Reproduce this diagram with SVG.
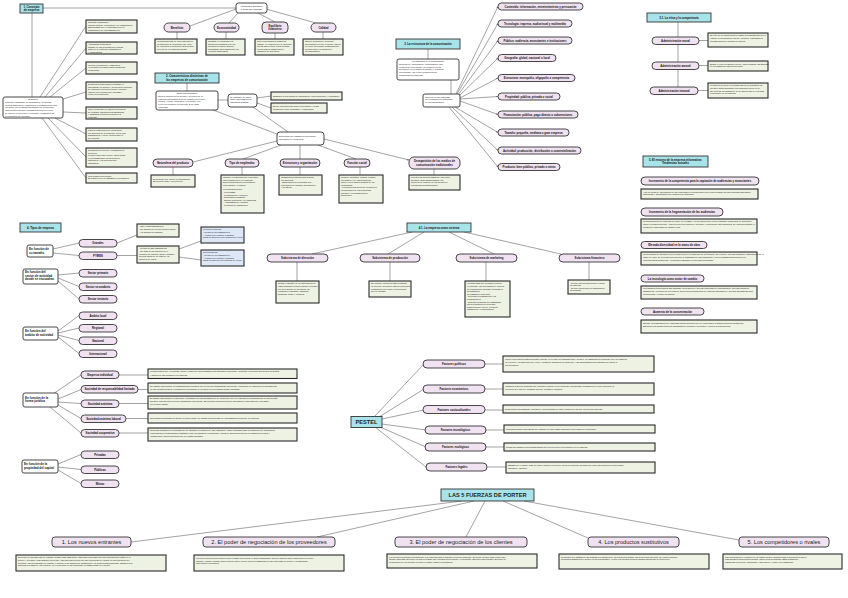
<svg xmlns="http://www.w3.org/2000/svg" width="848" height="598" viewBox="0 0 848 598">
<defs>
<style>
.bg{fill:#fff}
.t{fill:#a8e3ea;stroke:#333;stroke-width:0.9}
.p{fill:#f1e2f2;stroke:#333;stroke-width:0.9}
.g{fill:#eef2e3;stroke:#2a2a2a;stroke-width:1.1}
.w{fill:#fff;stroke:#333;stroke-width:0.9}
.b{fill:#dde8f7;stroke:#2a2a2a;stroke-width:1.1}
.c{fill:none;stroke:#666;stroke-width:0.6}
text{font-family:"Liberation Sans",Arial,sans-serif;fill:#111}
.h{font-size:2.8px;font-weight:bold;text-anchor:middle}
.pl{font-size:2.8px;font-weight:bold;text-anchor:middle}
.s{font-size:2.2px}
.sc{font-size:2.2px;text-anchor:middle}
.sb{font-size:3px;font-weight:bold}
.big{font-size:5.6px;text-anchor:middle;fill:#222}
.bh{font-size:5.6px;font-weight:bold;text-anchor:middle;fill:#222}
</style>
<marker id="a" viewBox="0 0 6 6" refX="6" refY="3" markerWidth="3" markerHeight="3" orient="auto"><path d="M0,0 L6,3 L0,6 z" fill="#666"/></marker>
</defs>
<rect class="bg" x="0" y="0" width="848" height="598"/>

<g id="connectors">
<path class="c" d="M43,8 H236 M32,13 V97"/>
<path class="c" d="M40,97 L86,26 M45,97 L86,48 M50,97 L86,68 M63,99 L86,92 M63,112 L86,113 M55,118 L86,134 M48,118 L86,157 M42,118 L86,178"/>
<path class="c" d="M236,9 L190,26 M238,13 L229,23 M258,13 L275,22 M266,9 L316,23 M177,32 V39 M226,32 V39 M275,33 V39 M323,32 V39"/>
<path class="c" d="M187,83 V91 M218,100 H228 M257,98 L271,96 M257,103 L271,108 M253,107 L288,132 M213,110 L277,134"/>
<path class="c" d="M277,141 L193,162 M281,145 L243,159 M300,145 V159 M318,145 L356,159 M173,167 V175 M242,167 V175 M300,167 V175 M360,167 V175 M434,169 V175"/>
<path class="c" marker-end="url(#a)" d="M324,139 L409,160"/>
<path class="c" d="M428,49 V59 M451,80 V94"/>
<g marker-end="url(#a)">
<path class="c" d="M456,94 L498,6.5"/>
<path class="c" d="M457,94 L498,23.5"/>
<path class="c" d="M458,95 L498,40.5"/>
<path class="c" d="M459,96 L498,58"/>
<path class="c" d="M460,98 L498,78"/>
<path class="c" d="M460,99 L498,96.5"/>
<path class="c" d="M460,101 L498,114.5"/>
<path class="c" d="M455,107 L498,132.5"/>
<path class="c" d="M452,107 L498,150.5"/>
<path class="c" d="M449,107 L498,167"/>
</g>
<path class="c" d="M678,22 V37 M678,44 V62 M678,69 V87 M699,40.5 H708 M699,65.5 H708 M698,90.5 H708"/>
<path class="c" d="M53,249 L79,243 M53,253 L79,255.5 M117,243 L137,235 M117,255.5 H137 M179,249 L201,241 M179,257 L201,260"/>
<path class="c" d="M58,275 L79,273 M58,278 L79,286.5 M58,281 L79,299"/>
<path class="c" d="M58,331 L79,315.5 M58,333 L79,328 M58,335 L79,340.5 M58,337 L79,353.5"/>
<path class="c" d="M50,396 L81,375 M58,399 L81,389.5 M58,402 L81,403.5 M58,405 L81,418.5 M50,407 L81,433"/>
<path class="c" d="M119,375 H148 M138,389.5 H148 M119,403.5 H148 M126,418.5 H148 M119,433 H148"/>
<path class="c" d="M58,464 L81,454.5 M58,467 L81,469.5 M58,470 L81,483.5"/>
<path class="c" d="M412,232 L312,254 M424,232 L388,254 M449,232 L494,254 M464,232 L561,254 M297,262 V281 M390,262 V281 M486,262 V281 M589,262 V280"/>
<path class="c" d="M374,417 L424,364 M379,417 L424,389 M382,419 L424,410 M382,424 L426,430 M380,427 L426,447 M375,427 L426,467"/>
<path class="c" d="M485,364 H503 M485,389 H503 M485,410 H503 M485,430 H504 M485,447 H504 M486,467 H506"/>
<path class="c" d="M462,501 L131,542 M474,501 L317,537 M485,501 L466,537 M503,501 L588,538 M524,501 L739,540"/>
</g>

<g id="concepto"><rect class="t" x="20" y="4" width="23" height="9"/><text class="h"><tspan x="31.5" y="7.9">1. Concepto</tspan><tspan x="31.5" y="11.4">de empresa</tspan></text></g>
<g id="definicion"><rect class="w" x="3" y="97" width="60" height="21" rx="2"/><text class="s"><tspan x="33" y="100.3" text-anchor="middle">Definición</tspan><tspan x="5" y="103">Conjunto organizado de actividades y personas,</tspan><tspan x="5" y="105.7">medios materiales y financieros, coordinados por una</tspan><tspan x="5" y="108.4">dirección, que combina los factores de producción</tspan><tspan x="5" y="111.1">para producir bienes o prestar servicios con el fin</tspan><tspan x="5" y="113.8">de obtener un beneficio económico y satisfacer las</tspan><tspan x="5" y="116.5">necesidades del mercado.</tspan></text></g>
<g id="c1"><rect class="g" x="86" y="20" width="51" height="13"/><text class="s"><tspan x="88" y="23">Conjunto organizado:</tspan><tspan x="88" y="25.6">Unidad jurídica, económica y de organización.</tspan><tspan x="88" y="28.2">Está dirigida por el empresario con la</tspan><tspan x="88" y="30.8">participación de los trabajadores.</tspan></text></g>
<g id="c2"><rect class="g" x="86" y="42" width="51" height="12"/><text class="s"><tspan x="88" y="45">Actividades personales:</tspan><tspan x="88" y="47.6">Trabajo de las personas que forman</tspan><tspan x="88" y="50.2">parte de la empresa: trabajadores</tspan><tspan x="88" y="52.8">y empresarios.</tspan></text></g>
<g id="c3"><rect class="g" x="86" y="62" width="51" height="12"/><text class="s"><tspan x="88" y="65.5">Medios económicos y materiales:</tspan><tspan x="88" y="68.1">elementos necesarios para desarrollar</tspan><tspan x="88" y="70.7">la actividad.</tspan></text></g>
<g id="c4"><rect class="g" x="86" y="82" width="51" height="17"/><text class="s"><tspan x="88" y="85">Relaciones comerciales: mediante el</tspan><tspan x="88" y="87.6">intercambio de bienes y servicios la empresa</tspan><tspan x="88" y="90.2">se relaciona con proveedores y clientes,</tspan><tspan x="88" y="92.8">obtiene los recursos que necesita y</tspan><tspan x="88" y="95.4">vende su producción.</tspan></text></g>
<g id="c5"><rect class="g" x="86" y="107" width="51" height="12"/><text class="s"><tspan x="88" y="110">Con el propósito de obtener beneficios:</tspan><tspan x="88" y="112.6">se persigue maximizar las ganancias</tspan><tspan x="88" y="115.2">y garantizar la supervivencia de la</tspan><tspan x="88" y="117.8">empresa.</tspan></text></g>
<g id="c6"><rect class="g" x="86" y="128" width="51" height="13"/><text class="s"><tspan x="88" y="131">Para la consecución de unos fines:</tspan><tspan x="88" y="133.6">los objetivos de la empresa, los de sus</tspan><tspan x="88" y="136.2">trabajadores y los de la sociedad en</tspan><tspan x="88" y="138.8">su conjunto.</tspan></text></g>
<g id="c7"><rect class="g" x="86" y="148" width="51" height="19"/><text class="s"><tspan x="88" y="151">Producción de bienes y prestación de</tspan><tspan x="88" y="153.6">servicios.</tspan><tspan x="88" y="156.2">La diferencia entre unos y otros radica</tspan><tspan x="88" y="158.8">en la tangibilidad: los bienes son</tspan><tspan x="88" y="161.4">materiales y los servicios son</tspan><tspan x="88" y="164">intangibles.</tspan></text></g>
<g id="c8"><rect class="g" x="86" y="173" width="51" height="10"/><text class="s"><tspan x="88" y="176.5">Con destino al mercado:</tspan><tspan x="88" y="179.3">El destino es el de satisfacer necesidades.</tspan></text></g>

<g id="finalidades"><rect class="w" x="236" y="3" width="31" height="10" rx="2.5"/><text class="sc"><tspan x="251.5" y="7.3">Finalidades aplicables</tspan><tspan x="251.5" y="10">a todas las empresas</tspan></text></g>
<g id="beneficio"><rect class="p" x="164" y="23" width="26" height="9" rx="4.5"/><text class="pl" x="177" y="28.5">Beneficio</text></g>
<g id="economicidad"><rect class="p" x="214" y="23" width="25" height="9" rx="4.5"/><text class="pl" x="226.5" y="28.5">Economicidad</text></g>
<g id="equilibrio"><rect class="p" x="262" y="22" width="26" height="11" rx="4"/><text class="pl"><tspan x="275" y="26.7">Equilibrio</tspan><tspan x="275" y="30">financiero</tspan></text></g>
<g id="calidad"><rect class="p" x="311" y="23" width="25" height="9" rx="4.5"/><text class="pl" x="323.5" y="28.5">Calidad</text></g>
<g id="d-beneficio"><rect class="g" x="155" y="39" width="42" height="14"/><text class="s"><tspan x="157" y="42">La actividad final de una empresa es</tspan><tspan x="157" y="44.6">la obtención de beneficios. De ellos</tspan><tspan x="157" y="47.2">se remunera a los socios. El beneficio</tspan><tspan x="157" y="49.8">es el fin de la empresa privada.</tspan></text></g>
<g id="d-economicidad"><rect class="g" x="206" y="39" width="39" height="16"/><text class="s"><tspan x="208" y="42">Consiste en conseguir los</tspan><tspan x="208" y="44.6">máximos resultados con los</tspan><tspan x="208" y="47.2">mínimos recursos. Supone</tspan><tspan x="208" y="49.8">administrar adecuadamente los</tspan><tspan x="208" y="52.4">recursos disponibles.</tspan></text></g>
<g id="d-equilibrio"><rect class="g" x="255" y="39" width="39" height="16"/><text class="s"><tspan x="257" y="42">Tener una situación financiera</tspan><tspan x="257" y="44.6">estable, de manera que la empresa</tspan><tspan x="257" y="47.2">pueda hacer frente a sus deudas</tspan><tspan x="257" y="49.8">en los plazos establecidos y</tspan><tspan x="257" y="52.4">mantener su solvencia.</tspan></text></g>
<g id="d-calidad"><rect class="g" x="303" y="39" width="40" height="16"/><text class="s"><tspan x="305" y="42">Ofrecer productos y servicios</tspan><tspan x="305" y="44.6">adecuados a lo que el cliente espera</tspan><tspan x="305" y="47.2">de ellos, mejorando continuamente</tspan><tspan x="305" y="49.8">los procesos y la gestión de</tspan><tspan x="305" y="52.4">la organización.</tspan></text></g>

<g id="s2"><rect class="t" x="155" y="73" width="64" height="10"/><text class="h"><tspan x="187" y="77.2">2. Características distintivas de</tspan><tspan x="187" y="80.7">las empresas de comunicación</tspan></text></g>
<g id="empresa-inf"><rect class="w" x="156" y="91" width="62" height="19" rx="2"/><text class="s"><tspan x="187" y="94.2" text-anchor="middle">Empresa informativa</tspan><tspan x="158" y="97.2">Toda la producción de bienes y servicios de la</tspan><tspan x="158" y="99.8">empresa informativa tiene un carácter ideológico,</tspan><tspan x="158" y="102.4">cultural y social, además de económico, por</tspan><tspan x="158" y="105">lo que su producto es diferente al de otras</tspan><tspan x="158" y="107.6">empresas.</tspan></text></g>
<g id="distingue"><rect class="w" x="228" y="94" width="29" height="13" rx="3"/><text class="s"><tspan x="230" y="97.6">Se distingue de las de</tspan><tspan x="230" y="100.3">otras empresas por su</tspan><tspan x="230" y="103">naturaleza singular</tspan></text></g>
<g id="satisface"><rect class="g" x="271" y="92" width="71" height="8"/><text class="s" x="273" y="96.7">Satisface la necesidad de información, entretenimiento y persuasión</text></g>
<g id="ejerce"><rect class="g" x="271" y="103" width="56" height="10"/><text class="s"><tspan x="273" y="106.7">Ejerce una influencia sobre la persona y en sus</tspan><tspan x="273" y="109.5">decisiones como ciudadano y consumidor</tspan></text></g>
<g id="elementos"><rect class="w" x="277" y="132" width="47" height="13" rx="3"/><text class="s"><tspan x="279" y="137">Elementos que distinguen al producto</tspan><tspan x="279" y="139.8">informativo de otros tipos</tspan></text></g>
<g id="naturaleza"><rect class="p" x="153" y="159" width="40" height="8" rx="4"/><text class="pl" x="173" y="164">Naturaleza del producto</text></g>
<g id="tipo"><rect class="p" x="225" y="159" width="34" height="8" rx="4"/><text class="pl" x="242" y="164">Tipo de empleados</text></g>
<g id="estructura"><rect class="p" x="280" y="159" width="40" height="8" rx="4"/><text class="pl" x="300" y="164">Estructura y organización</text></g>
<g id="funcion"><rect class="p" x="344" y="159" width="26" height="8" rx="4"/><text class="pl" x="357" y="164">Función social</text></g>
<g id="desaparicion"><rect class="p" x="409" y="157" width="51" height="12" rx="5"/><text class="pl"><tspan x="434.5" y="162">Desaparición de los medios de</tspan><tspan x="434.5" y="165.5">comunicación tradicionales</tspan></text></g>
<g id="d-naturaleza"><rect class="g" x="151" y="175" width="44" height="12"/><text class="s"><tspan x="153" y="179.5">El producto que ofrece es información.</tspan><tspan x="153" y="182.3">Es un bien doble y perecedero.</tspan></text></g>
<g id="d-tipo"><rect class="g" x="221" y="175" width="43" height="38"/><text class="s"><tspan x="223" y="178">Cultura y creatividad son elementos</tspan><tspan x="223" y="180.6">diferenciadores de la empresa.</tspan><tspan x="223" y="183.2">Son profesionales con formación</tspan><tspan x="223" y="185.8">universitaria y vocación.</tspan><tspan x="223" y="190.4">Los principales son:</tspan><tspan x="223" y="193">- Periodistas</tspan><tspan x="223" y="195.6">- Realizadores y técnicos</tspan><tspan x="223" y="198.2">- Diseñadores gráficos</tspan><tspan x="223" y="200.8">- Equipo comercial y de marketing</tspan><tspan x="223" y="203.4">- Administración y gestión</tspan><tspan x="223" y="206">- Personal de distribución</tspan></text></g>
<g id="d-estructura"><rect class="g" x="279" y="175" width="43" height="20"/><text class="s"><tspan x="281" y="178">Organización interna para cumplir</tspan><tspan x="281" y="180.6">los objetivos.</tspan><tspan x="281" y="183.2">- Elaboración de productos con</tspan><tspan x="281" y="185.8">contenidos de calidad, innovadores</tspan><tspan x="281" y="188.4">y creativos.</tspan></text></g>
<g id="d-funcion"><rect class="g" x="339" y="175" width="44" height="28"/><text class="s"><tspan x="341" y="178">Función educativa, cultural, política,</tspan><tspan x="341" y="180.6">ideológica y de entretenimiento.</tspan><tspan x="341" y="183.2">Influye en la opinión pública de los</tspan><tspan x="341" y="185.8">ciudadanos.</tspan><tspan x="341" y="188.4">- La función social puede ayudar a la</tspan><tspan x="341" y="191">comprensión de los problemas</tspan><tspan x="341" y="193.6">sociales y a la búsqueda de</tspan><tspan x="341" y="196.2">soluciones.</tspan></text></g>
<g id="d-desaparicion"><rect class="g" x="409" y="175" width="51" height="15"/><text class="s"><tspan x="411" y="178">Los nuevos medios digitales y las redes</tspan><tspan x="411" y="180.6">sociales están transformando los</tspan><tspan x="411" y="183.2">modelos de negocio de los medios de</tspan><tspan x="411" y="185.8">comunicación tradicionales.</tspan></text></g>

<g id="s3"><rect class="t" x="396" y="39" width="64" height="10"/><text class="h" x="428" y="45">3. La estructura de la comunicación</text></g>
<g id="estructura-com"><rect class="w" x="397" y="59" width="62" height="21" rx="2"/><text class="s"><tspan x="428" y="62.3" text-anchor="middle">La estructura de la comunicación</tspan><tspan x="399" y="65.2">Conjunto de empresas de comunicación, sus</tspan><tspan x="399" y="67.8">relaciones económicas y su posición en los</tspan><tspan x="399" y="70.4">mercados en un ámbito geográfico y temporal</tspan><tspan x="399" y="73">determinado, así como los factores que</tspan><tspan x="399" y="75.6">condicionan su actividad.</tspan></text></g>
<g id="criterios"><rect class="w" x="423" y="94" width="37" height="13" rx="2"/><text class="s"><tspan x="425" y="97.7">Criterios en las empresas</tspan><tspan x="425" y="100.4">que componen la estructura</tspan><tspan x="425" y="103.1">de la comunicación</tspan></text></g>
<g id="k1"><rect class="p" x="498" y="3" width="85" height="7" rx="3.5"/><text class="pl" x="540.5" y="7.5">Contenido: información, entretenimiento y persuasión</text></g>
<g id="k2"><rect class="p" x="498" y="20" width="74" height="7" rx="3.5"/><text class="pl" x="535" y="24.5">Tecnología: impresa, audiovisual y multimedia</text></g>
<g id="k3"><rect class="p" x="498" y="37" width="74" height="7" rx="3.5"/><text class="pl" x="535" y="41.5">Público: audiencia, anunciantes e instituciones</text></g>
<g id="k4"><rect class="p" x="498" y="54.5" width="58" height="7" rx="3.5"/><text class="pl" x="527" y="59">Geografía: global, nacional o local</text></g>
<g id="k5"><rect class="p" x="498" y="74.5" width="77" height="7" rx="3.5"/><text class="pl" x="536.5" y="79">Estructura: monopolio, oligopolio o competencia</text></g>
<g id="k6"><rect class="p" x="498" y="93" width="62" height="7" rx="3.5"/><text class="pl" x="529" y="97.5">Propiedad: pública, privada o social</text></g>
<g id="k7"><rect class="p" x="498" y="111" width="80" height="7" rx="3.5"/><text class="pl" x="538" y="115.5">Financiación: pública, pago directo o subvenciones</text></g>
<g id="k8"><rect class="p" x="498" y="129" width="71" height="7" rx="3.5"/><text class="pl" x="533.5" y="133.5">Tamaño: pequeña, mediana o gran empresa</text></g>
<g id="k9"><rect class="p" x="498" y="147" width="83" height="7" rx="3.5"/><text class="pl" x="539.5" y="151.5">Actividad: producción, distribución o comercialización</text></g>
<g id="k10"><rect class="p" x="498" y="163.5" width="62" height="7" rx="3.5"/><text class="pl" x="529" y="168">Producto: bien público, privado o mixto</text></g>

<g id="s51"><rect class="t" x="647" y="13" width="64" height="9"/><text class="h" x="679" y="18.5">5.1. La ética y la competencia</text></g>
<g id="moral"><rect class="p" x="652" y="37" width="47" height="7.5" rx="3.7"/><text class="pl" x="675.5" y="41.7">Administración moral</text></g>
<g id="amoral"><rect class="p" x="652" y="62" width="47" height="7.5" rx="3.7"/><text class="pl" x="675.5" y="66.7">Administración amoral</text></g>
<g id="inmoral"><rect class="p" x="650" y="87" width="48" height="7.5" rx="3.7"/><text class="pl" x="674" y="91.7">Administración inmoral</text></g>
<g id="d-moral"><rect class="g" x="708" y="33" width="60" height="14"/><text class="s"><tspan x="710" y="36.3">El éxito de la empresa ha de pasar necesariamente por el</tspan><tspan x="710" y="38.9">respeto a los principios éticos y morales, respetando a</tspan><tspan x="710" y="41.5">los stakeholders o grupos de interés.</tspan></text></g>
<g id="d-amoral"><rect class="g" x="708" y="61" width="60" height="10"/><text class="s"><tspan x="710" y="64.6">Busca el éxito a cualquier precio, aprovechando las lagunas</tspan><tspan x="710" y="67.2">de la legislación para su beneficio.</tspan></text></g>
<g id="d-inmoral"><rect class="g" x="708" y="83" width="60" height="15"/><text class="s"><tspan x="710" y="86.3">La ética no se tiene en consideración en la gestión. El</tspan><tspan x="710" y="88.9">directivo actúa ignorando los principios éticos, pero</tspan><tspan x="710" y="91.5">sin vulnerar la legislación: no se aprovecha de ella para</tspan><tspan x="710" y="94.1">el beneficio de la empresa.</tspan></text></g>

<g id="s5"><rect class="t" x="643" y="156" width="65" height="11"/><text class="h"><tspan x="675.5" y="160.7">5. El entorno de la empresa informativa:</tspan><tspan x="675.5" y="164.2">Tendencias actuales</tspan></text></g>
<g id="e1"><rect class="p" x="641" y="177" width="118" height="8" rx="4"/><text class="pl" x="700" y="182">Incremento de la competencia para la captación de audiencias y anunciantes</text></g>
<g id="de1"><rect class="g" x="641" y="189" width="117" height="10"/><text class="s"><tspan x="643" y="192.6">Ante la oferta de información de las empresas de comunicación que deben buscar nuevas fórmulas para atraer</tspan><tspan x="643" y="195.2">audiencias y anunciantes que financien su actividad.</tspan></text></g>
<g id="e2"><rect class="p" x="641" y="208" width="82" height="8" rx="4"/><text class="pl" x="682" y="213">Incremento de la fragmentación de las audiencias</text></g>
<g id="de2"><rect class="g" x="641" y="219" width="116" height="14"/><text class="s"><tspan x="643" y="222.3">La multiplicación de cadenas de radio, de revistas y de televisión tiene como resultado segmentos de audiencia</tspan><tspan x="643" y="224.9">cada vez más pequeños. Aparecen nuevos nichos de mercado y contenidos especializados. Se está fomentando el</tspan><tspan x="643" y="227.5">desarrollo empresarial de ámbito local.</tspan></text></g>
<g id="e3"><rect class="p" x="641" y="241.5" width="66" height="7" rx="3.5"/><text class="pl" x="674" y="246">Elevada diversidad en la mano de obra</text></g>
<g id="de3"><rect class="g" x="641" y="252" width="116" height="13"/><text class="s"><tspan x="643" y="255.3">La diversidad de talentos es un recurso nuevo en cada uno de producción. Se requiere nuevas formas de organización de la</tspan><tspan x="643" y="257.9">mano de obra. Se necesita la presencia de trabajadores especializados y los periodistas tradicionales con</tspan><tspan x="643" y="260.5">conocimientos multimedia, y personal cualificado en nuevas tecnologías.</tspan></text></g>
<g id="e4"><rect class="p" x="641" y="275" width="63" height="7" rx="3.5"/><text class="pl" x="672.5" y="279.5">La tecnología como motor de cambio</text></g>
<g id="de4"><rect class="g" x="641" y="286" width="116" height="13"/><text class="s"><tspan x="643" y="289.3">Los cambios tecnológicos han facilitado la creación de nuevas empresas de comunicación, nuevas formas de</tspan><tspan x="643" y="291.9">distribución y producción del negocio. Nuevos procedimientos de elaborar información y nuevas alternativas para</tspan><tspan x="643" y="294.5">promocionar y vender productos.</tspan></text></g>
<g id="e5"><rect class="p" x="641" y="308" width="63" height="7" rx="3.5"/><text class="pl" x="672.5" y="312.5">Aumento de la concentración</text></g>
<g id="de5"><rect class="g" x="641" y="320" width="116" height="13"/><text class="s"><tspan x="643" y="324">Supone la desaparición de empresas independientes que se concentran en grandes grupos multimedia.</tspan><tspan x="643" y="326.6">Estos nuevos grupos tienen la capacidad de dominar el mercado y reducir la competencia.</tspan></text></g>

<g id="s4"><rect class="t" x="20" y="223" width="41" height="9"/><text class="h" x="40.5" y="228.6">4. Tipos de empresa</text></g>
<g id="tamano"><rect class="w" x="27" y="245" width="26" height="12" rx="2"/><text class="sb"><tspan x="29" y="249.8">En función de</tspan><tspan x="29" y="253.6">su tamaño</tspan></text></g>
<g id="grandes"><rect class="p" x="79" y="239.5" width="38" height="7.5" rx="3.7"/><text class="pl" x="98" y="244.2">Grandes</text></g>
<g id="pymes"><rect class="p" x="79" y="252" width="38" height="7.5" rx="3.7"/><text class="pl" x="98" y="256.7">PYMES</text></g>
<g id="d-grandes"><rect class="g" x="137" y="224" width="42" height="13"/><text class="s"><tspan x="139" y="227.3">- 250 o más trabajadores</tspan><tspan x="139" y="229.9">- 50 millones de euros volumen anual</tspan><tspan x="139" y="232.5">- 43 millones de balance</tspan></text></g>
<g id="d-pymes"><rect class="g" x="137" y="246" width="42" height="17"/><text class="s"><tspan x="139" y="249.3">- Menos de 250 trabajadores</tspan><tspan x="139" y="251.9">- No más de 50 millones en el</tspan><tspan x="139" y="254.5">volumen de negocio anual o balance</tspan><tspan x="139" y="257.1">general anual de no más de 43</tspan><tspan x="139" y="259.7">millones de euros</tspan></text></g>
<g id="pequena"><rect class="b" x="201" y="227" width="43" height="16"/><text class="s"><tspan x="203" y="230.3">Pequeña empresa:</tspan><tspan x="203" y="232.9">- Menos de 50 trabajadores</tspan><tspan x="203" y="235.5">- Volumen de negocio o balance</tspan><tspan x="203" y="238.1">anual no superior a 10 millones de euros</tspan></text></g>
<g id="micro"><rect class="b" x="201" y="250" width="43" height="16"/><text class="s"><tspan x="203" y="253.3">Microempresa:</tspan><tspan x="203" y="255.9">- Menos de 10 trabajadores</tspan><tspan x="203" y="258.5">- Volumen de negocio o balance</tspan><tspan x="203" y="261.1">anual no superior a 2 millones de euros</tspan></text></g>
<g id="sector"><rect class="w" x="23" y="269" width="35" height="15" rx="2"/><text class="sb"><tspan x="25" y="273.2">En función del</tspan><tspan x="25" y="276.6">sector de actividad</tspan><tspan x="25" y="280">donde se encuadran</tspan></text></g>
<g id="primario"><rect class="p" x="79" y="269.5" width="38" height="7.5" rx="3.7"/><text class="pl" x="98" y="274.2">Sector primario</text></g>
<g id="secundario"><rect class="p" x="79" y="283" width="38" height="7.5" rx="3.7"/><text class="pl" x="98" y="287.7">Sector secundario</text></g>
<g id="terciario"><rect class="p" x="79" y="295.5" width="38" height="7.5" rx="3.7"/><text class="pl" x="98" y="300.2">Sector terciario</text></g>
<g id="ambito"><rect class="w" x="23" y="327" width="35" height="13" rx="2"/><text class="sb"><tspan x="25" y="331.8">En función del</tspan><tspan x="25" y="335.6">ámbito de actividad</tspan></text></g>
<g id="local"><rect class="p" x="79" y="312" width="38" height="7.5" rx="3.7"/><text class="pl" x="98" y="316.7">Ámbito local</text></g>
<g id="regional"><rect class="p" x="79" y="324.5" width="38" height="7.5" rx="3.7"/><text class="pl" x="98" y="329.2">Regional</text></g>
<g id="nacional"><rect class="p" x="79" y="337" width="38" height="7.5" rx="3.7"/><text class="pl" x="98" y="341.7">Nacional</text></g>
<g id="internacional"><rect class="p" x="79" y="350" width="38" height="7.5" rx="3.7"/><text class="pl" x="98" y="354.7">Internacional</text></g>
<g id="forma"><rect class="w" x="23" y="393" width="35" height="14" rx="2"/><text class="sb"><tspan x="25" y="398.5">En función de la</tspan><tspan x="25" y="402.3">forma jurídica</tspan></text></g>
<g id="individual"><rect class="p" x="81" y="371" width="38" height="7.5" rx="3.7"/><text class="pl" x="100" y="375.7">Empresa individual</text></g>
<g id="srl"><rect class="p" x="81" y="385.5" width="57" height="7.5" rx="3.7"/><text class="pl" x="109.5" y="390.2">Sociedad de responsabilidad limitada</text></g>
<g id="sa"><rect class="p" x="81" y="400" width="38" height="7.5" rx="3.7"/><text class="pl" x="100" y="404.7">Sociedad anónima</text></g>
<g id="sal"><rect class="p" x="81" y="415" width="45" height="7.5" rx="3.7"/><text class="pl" x="103.5" y="419.7">Sociedad anónima laboral</text></g>
<g id="coop"><rect class="p" x="81" y="429.5" width="38" height="7.5" rx="3.7"/><text class="pl" x="100" y="434.2">Sociedad cooperativa</text></g>
<g id="d-individual"><rect class="g" x="148" y="369" width="149" height="9.5"/><text class="s"><tspan x="150" y="372.4">Persona física que, en nombre propio, realiza de forma habitual una actividad económica y responde con todos sus bienes presentes</tspan><tspan x="150" y="375.6">y futuros de las deudas de la empresa.</tspan></text></g>
<g id="d-srl"><rect class="g" x="148" y="383" width="149" height="10"/><text class="s"><tspan x="150" y="386.5">Su capital está dividido en participaciones sociales que no pueden transmitirse libremente; los socios no responden personalmente</tspan><tspan x="150" y="389.8">de las deudas sociales. Formada por un mínimo de un socio con un capital mínimo aportado.</tspan></text></g>
<g id="d-sa"><rect class="g" x="148" y="396" width="149" height="13"/><text class="s"><tspan x="150" y="399.4">El capital está dividido en acciones e integrado por las aportaciones de los socios, que no responden personalmente de las deudas</tspan><tspan x="150" y="402.2">sociales. Las acciones pueden transmitirse libremente. Es la forma jurídica propia de las grandes empresas que necesitan</tspan><tspan x="150" y="405">un elevado capital.</tspan></text></g>
<g id="d-sal"><rect class="g" x="148" y="413" width="149" height="10"/><text class="s" x="150" y="418.6">Sociedades anónimas en las que la mayor parte del capital es propiedad de los trabajadores fijos de la empresa.</text></g>
<g id="d-coop"><rect class="g" x="148" y="428" width="149" height="13"/><text class="s"><tspan x="150" y="431.4">Sociedad formada por personas que se asocian en régimen de libre adhesión y baja voluntaria para la realización de actividades</tspan><tspan x="150" y="434.2">empresariales encaminadas a satisfacer sus necesidades económicas y sociales. Sus socios tienen los mismos derechos y</tspan><tspan x="150" y="437">obligaciones, independientemente del capital aportado.</tspan></text></g>
<g id="propiedad"><rect class="w" x="22" y="460" width="36" height="13" rx="2"/><text class="sb"><tspan x="24" y="464.8">En función de la</tspan><tspan x="24" y="468.6">propiedad del capital</tspan></text></g>
<g id="privadas"><rect class="p" x="81" y="451" width="38" height="7.5" rx="3.7"/><text class="pl" x="100" y="455.7">Privadas</text></g>
<g id="publicas"><rect class="p" x="81" y="466" width="38" height="7.5" rx="3.7"/><text class="pl" x="100" y="470.7">Públicas</text></g>
<g id="mixtas"><rect class="p" x="81" y="480" width="38" height="7.5" rx="3.7"/><text class="pl" x="100" y="484.7">Mixtas</text></g>

<g id="s41"><rect class="t" x="407" y="223" width="64" height="9"/><text class="h" x="439" y="228.6">4.1. La empresa como sistema</text></g>
<g id="direccion"><rect class="p" x="267" y="254" width="61" height="8" rx="4"/><text class="pl" x="297.5" y="259">Subsistema de dirección</text></g>
<g id="produccion"><rect class="p" x="360" y="254" width="60" height="8" rx="4"/><text class="pl" x="390" y="259">Subsistema de producción</text></g>
<g id="marketing"><rect class="p" x="456" y="254" width="61" height="8" rx="4"/><text class="pl" x="486.5" y="259">Subsistema de marketing</text></g>
<g id="financiero"><rect class="p" x="559" y="254" width="61" height="8" rx="4"/><text class="pl" x="589.5" y="259">Subsistema financiero</text></g>
<g id="d-direccion"><rect class="g" x="276" y="281" width="43" height="22"/><text class="s"><tspan x="278" y="284.3">Según el tamaño de la empresa puede</tspan><tspan x="278" y="286.9">estar integrado a una persona o formado</tspan><tspan x="278" y="289.5">por un conjunto de directivos. Se</tspan><tspan x="278" y="292.1">encarga de planificar, organizar,</tspan><tspan x="278" y="294.7">gestionar, dirigir y controlar.</tspan></text></g>
<g id="d-produccion"><rect class="g" x="369" y="281" width="42" height="16"/><text class="s"><tspan x="371" y="284.3">Su objetivo es incrementar la utilidad</tspan><tspan x="371" y="286.9">de bienes y servicios: obtener productos</tspan><tspan x="371" y="289.5">destinados a la venta o los servicios</tspan><tspan x="371" y="292.1">que se prestan.</tspan></text></g>
<g id="d-marketing"><rect class="g" x="465" y="281" width="45" height="36"/><text class="s"><tspan x="467" y="284.3">Herramientas que permiten conocer</tspan><tspan x="467" y="286.9">el mercado, las necesidades y deseos</tspan><tspan x="467" y="289.5">del consumidor mediante técnicas de</tspan><tspan x="467" y="292.1">investigación.</tspan><tspan x="467" y="294.7">Investigación comercial:</tspan><tspan x="467" y="297.3">- Detectar necesidades de los</tspan><tspan x="467" y="299.9">consumidores.</tspan><tspan x="467" y="302.5">- Diseñar productos que satisfagan</tspan><tspan x="467" y="305.1">las necesidades del mercado.</tspan><tspan x="467" y="307.7">Marketing Mix: Precio, producto,</tspan><tspan x="467" y="310.3">distribución y comunicación.</tspan></text></g>
<g id="d-financiero"><rect class="g" x="568" y="280" width="42" height="14"/><text class="s"><tspan x="570" y="283.5">- Decide las inversiones que realiza</tspan><tspan x="570" y="286.1">la empresa.</tspan><tspan x="570" y="288.7">- Decide las fuentes de financiación</tspan><tspan x="570" y="291.3">necesarias.</tspan></text></g>

<g id="pestel"><rect class="t" x="351" y="416.5" width="31" height="11"/><text class="bh" x="366.5" y="424.2">PESTEL</text></g>
<g id="politicos"><rect class="p" x="423" y="360" width="62" height="8" rx="4"/><text class="pl" x="454" y="365">Factores políticos</text></g>
<g id="economicos"><rect class="p" x="423" y="385" width="62" height="8" rx="4"/><text class="pl" x="454" y="390">Factores económicos</text></g>
<g id="socio"><rect class="p" x="423" y="405.5" width="62" height="8" rx="4"/><text class="pl" x="454" y="410.5">Factores socioculturales</text></g>
<g id="tecno"><rect class="p" x="425" y="426" width="61" height="8" rx="4"/><text class="pl" x="455.5" y="431">Factores tecnológicos</text></g>
<g id="eco"><rect class="p" x="425" y="443" width="61" height="8" rx="4"/><text class="pl" x="455.5" y="448">Factores ecológicos</text></g>
<g id="legales"><rect class="p" x="426" y="463" width="61" height="8" rx="4"/><text class="pl" x="456.5" y="468">Factores legales</text></g>
<g id="d-politicos"><rect class="g" x="503" y="356" width="151" height="16"/><text class="s"><tspan x="505" y="359.5">Hacen referencia al sistema político vigente en el país, su transparencia y solidez, la estabilidad del gobierno que se mantiene</tspan><tspan x="505" y="362.5">en el poder y la influencia que ejerce. Cualquier actuación del gobierno y las administraciones públicas que afecte a</tspan><tspan x="505" y="365.5">los mercados.</tspan></text></g>
<g id="d-economicos"><rect class="g" x="503" y="383" width="151" height="12"/><text class="s"><tspan x="505" y="386.5">Variables macroeconómicas que permiten evaluar en un momento determinado la situación de una economía: la</tspan><tspan x="505" y="389.5">evolución del PIB, del consumo interno, la tasa de inflación.</tspan></text></g>
<g id="d-socio"><rect class="g" x="503" y="405" width="151" height="8"/><text class="s" x="505" y="409.7">Tendencias demográficas, culturales y sociológicas del país o países en los que opera una empresa.</text></g>
<g id="d-tecno"><rect class="g" x="504" y="425" width="151" height="8"/><text class="s" x="506" y="429.7">Infraestructuras tecnológicas que dispone un país. Está vinculado a su desarrollo económico.</text></g>
<g id="d-eco"><rect class="g" x="504" y="443" width="151" height="8"/><text class="s" x="506" y="447.7">Todas las variables medioambientales que pueden tener repercusión en la empresa.</text></g>
<g id="d-legales"><rect class="g" x="506" y="462" width="149" height="11"/><text class="s"><tspan x="508" y="465.8">Establecen el marco legal del país o países en los que opera la empresa. Normas que rigen las relaciones comerciales,</tspan><tspan x="508" y="468.8">laborales y fiscales.</tspan></text></g>

<g id="porter"><rect class="t" x="441" y="489" width="93" height="12"/><text class="bh" x="487.5" y="497.2">LAS 5 FUERZAS DE PORTER</text></g>
<g id="f1"><rect class="p" x="52" y="537" width="79" height="10" rx="3"/><text class="big" x="91.5" y="544">1. Los nuevos entrantes</text></g>
<g id="f2"><rect class="p" x="203" y="537" width="132" height="10" rx="3"/><text class="big" x="269" y="544">2. El poder de negociación de los proveedores</text></g>
<g id="f3"><rect class="p" x="395" y="537" width="132" height="10" rx="3"/><text class="big" x="461" y="544">3. El poder de negociación de los clientes</text></g>
<g id="f4"><rect class="p" x="588" y="537" width="91" height="10" rx="3"/><text class="big" x="633.5" y="544">4. Los productos sustitutivos</text></g>
<g id="f5"><rect class="p" x="739" y="537" width="90" height="10" rx="3"/><text class="big" x="784" y="544">5. Los competidores o rivales</text></g>
<g id="d-f1"><rect class="g" x="16" y="555" width="150" height="16"/><text class="s"><tspan x="18" y="558.3">Depende de las barreras de entrada. Cuanto más altas sean, más difícil será para nuevos competidores entrar en el</tspan><tspan x="18" y="561">sector y, por tanto, más atractivo será este. Las barreras pueden ser las economías de escala, la diferenciación del</tspan><tspan x="18" y="563.7">producto, las necesidades de capital, el acceso a los canales de distribución o la política gubernamental. También son</tspan><tspan x="18" y="566.4">barreras la lealtad de los clientes y la experiencia de las empresas ya establecidas en el sector.</tspan></text></g>
<g id="d-f2"><rect class="g" x="194" y="555" width="150" height="16"/><text class="s"><tspan x="196" y="558.8">Los proveedores tienen mayor poder cuando son pocos o están organizados; pueden imponer sus condiciones de precio,</tspan><tspan x="196" y="561.5">calidad y plazos. Cuanto mayor sea su poder, menor será la rentabilidad de las empresas del sector y la capacidad</tspan><tspan x="196" y="564.2">para obtener beneficios.</tspan></text></g>
<g id="d-f3"><rect class="g" x="387" y="554" width="150" height="14"/><text class="s"><tspan x="389" y="557.5">Los clientes presionan directamente a la empresa para conseguir un precio más bajo. El cliente es libre para elegir entre</tspan><tspan x="389" y="560.2">varias empresas. Su poder es mayor cuando hay muchos proveedores y el producto está poco diferenciado. El poder de</tspan><tspan x="389" y="562.9">negociación de los clientes es mayor cuando están concentrados.</tspan></text></g>
<g id="d-f4"><rect class="g" x="559" y="554" width="150" height="15"/><text class="s"><tspan x="561" y="557.5">Productos que satisfacen las mismas necesidades de los clientes mediante una tecnología diferente. Si existen muchos</tspan><tspan x="561" y="560.2">productos sustitutivos el sector es menos atractivo, ya que los clientes pueden cambiar fácilmente de proveedor.</tspan></text></g>
<g id="d-f5"><rect class="g" x="723" y="554" width="119" height="15"/><text class="s"><tspan x="725" y="557.5">Las empresas que compiten en un mismo sector. Cuantos más competidores haya y</tspan><tspan x="725" y="560.2">más similares sean sus productos, mayor será la rivalidad. Esta rivalidad se</tspan><tspan x="725" y="562.9">manifiesta en precios, publicidad e innovación y reduce la rentabilidad.</tspan></text></g>
</svg>
